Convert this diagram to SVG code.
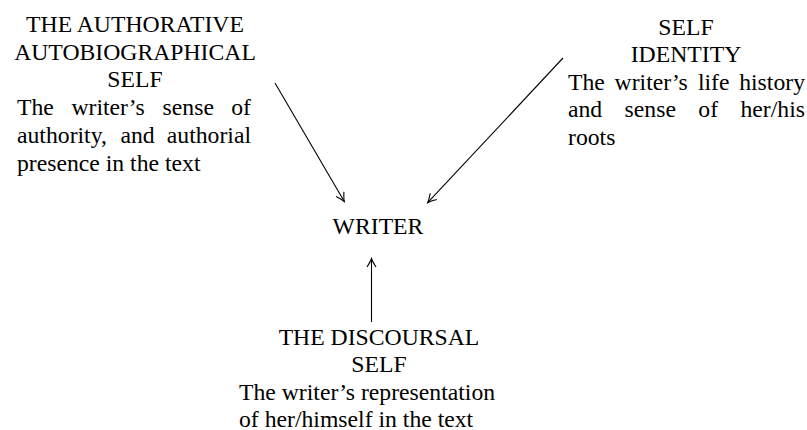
<svg xmlns="http://www.w3.org/2000/svg" width="807" height="430" viewBox="0 0 807 430">
  <style>
    text { font-family: 'Liberation Serif', 'Times New Roman', Tinos, 'DejaVu Serif', serif; font-size: 23.7px; fill: #000; }
    .c { text-anchor: middle; }
    .e { text-anchor: end; }
    .conn line { stroke: #000; stroke-width: 1.1; fill: none; }
  </style>
  <defs>
    <marker id="arr" viewBox="-10 -6 12 12" refX="0" refY="0" markerWidth="12" markerHeight="12" markerUnits="userSpaceOnUse" orient="auto">
      <path d="M -8.5 -4.5 Q -3 -1 0 0 Q -3 1 -8.5 4.5" fill="none" stroke="#000" stroke-width="1.1"/>
    </marker>
  </defs>
  <rect width="807" height="430" fill="#fff"/>

  <g font-family="'Liberation Serif', 'Times New Roman', serif">
  <g id="authorative-self">
    <text class="c" x="135" y="31.8">THE AUTHORATIVE</text>
    <text class="c" x="135" y="59.6">AUTOBIOGRAPHICAL</text>
    <text class="c" x="135" y="87.4">SELF</text>
    <text y="115.2"><tspan x="17">The</tspan><tspan x="71.4">writer’s</tspan><tspan x="162.6">sense</tspan><tspan x="251" class="e">of</tspan></text>
    <text y="143"><tspan x="17">authority,</tspan><tspan x="120.5">and</tspan><tspan x="251" class="e">authorial</tspan></text>
    <text x="17" y="170.8">presence in the text</text>
  </g>

  <g id="self-identity">
    <text class="c" x="686" y="34.5">SELF</text>
    <text class="c" x="686" y="62">IDENTITY</text>
    <text y="89.5"><tspan x="568">The</tspan><tspan x="614.6">writer’s</tspan><tspan x="697.9">life</tspan><tspan x="805" class="e">history</tspan></text>
    <text y="117"><tspan x="568">and</tspan><tspan x="624.6">sense</tspan><tspan x="698.3">of</tspan><tspan x="805" class="e">her/his</tspan></text>
    <text x="568" y="144.5">roots</text>
  </g>

  <g id="writer">
    <text class="c" x="378" y="233.5">WRITER</text>
  </g>

  <g id="discoursal-self">
    <text class="c" x="379" y="344.5">THE DISCOURSAL</text>
    <text class="c" x="379" y="372">SELF</text>
    <text x="239" y="399.5">The writer’s representation</text>
    <text x="239" y="426.5">of her/himself in the text</text>
  </g>
  </g>

  <g id="connectors" class="conn">
    <line x1="275" y1="83" x2="344.3" y2="201.5" marker-end="url(#arr)"/>
    <line x1="563" y1="58" x2="427.7" y2="202.7" marker-end="url(#arr)"/>
    <line x1="371.5" y1="322" x2="371.5" y2="258.5" marker-end="url(#arr)"/>
  </g>
</svg>
